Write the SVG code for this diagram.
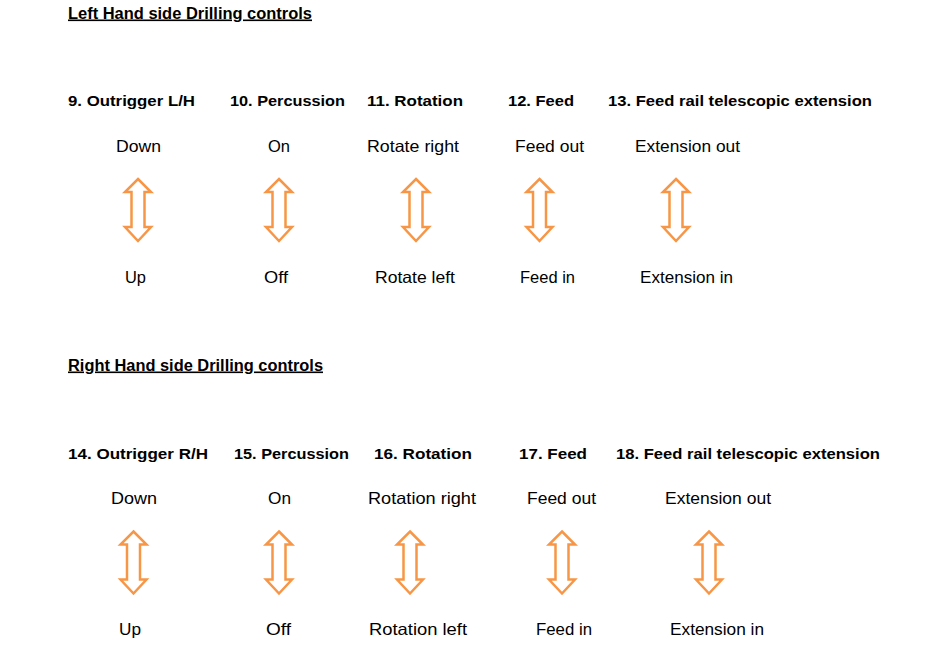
<svg xmlns="http://www.w3.org/2000/svg" xmlns:xlink="http://www.w3.org/1999/xlink" width="928" height="660" viewBox="0 0 928 660">
<style>
.t{font-family:"Liberation Sans",Arial,sans-serif;font-weight:bold;font-size:16px;fill:#000;text-decoration:underline}
.h{font-family:"Liberation Sans",Arial,sans-serif;font-weight:bold;font-size:15.5px;fill:#000}
.l{font-family:"Liberation Sans",Arial,sans-serif;font-size:16.5px;fill:#000}
.a{fill:#fff;stroke:#F79646;stroke-width:2.5;stroke-linejoin:miter}
</style>
<defs>
<path id="arr" class="a" d="M0,0 L13,13 L6.5,13 L6.5,48 L13,48 L0,62 L-13,48 L-6.5,48 L-6.5,13 L-13,13 Z"/>
</defs>
<rect width="928" height="660" fill="#fff"/>

<g id="left-title"><text class="t" x="68" y="18.5" textLength="244" lengthAdjust="spacingAndGlyphs">Left Hand side Drilling controls</text></g>

<g id="ctl9">
<text class="h" x="68" y="106" textLength="127" lengthAdjust="spacingAndGlyphs">9. Outrigger L/H</text>
<text class="l" x="116" y="151.5" textLength="45" lengthAdjust="spacingAndGlyphs">Down</text>
<use xlink:href="#arr" x="138" y="179"/>
<text class="l" x="125" y="283" textLength="21" lengthAdjust="spacingAndGlyphs">Up</text>
</g>
<g id="ctl10">
<text class="h" x="230" y="106" textLength="115" lengthAdjust="spacingAndGlyphs">10. Percussion</text>
<text class="l" x="268" y="151.5" textLength="22" lengthAdjust="spacingAndGlyphs">On</text>
<use xlink:href="#arr" x="279" y="179"/>
<text class="l" x="264" y="283" textLength="24" lengthAdjust="spacingAndGlyphs">Off</text>
</g>
<g id="ctl11">
<text class="h" x="367" y="106" textLength="96" lengthAdjust="spacingAndGlyphs">11. Rotation</text>
<text class="l" x="367" y="151.5" textLength="92" lengthAdjust="spacingAndGlyphs">Rotate right</text>
<use xlink:href="#arr" x="416" y="179"/>
<text class="l" x="375" y="283" textLength="80" lengthAdjust="spacingAndGlyphs">Rotate left</text>
</g>
<g id="ctl12">
<text class="h" x="508" y="106" textLength="66" lengthAdjust="spacingAndGlyphs">12. Feed</text>
<text class="l" x="515" y="151.5" textLength="69" lengthAdjust="spacingAndGlyphs">Feed out</text>
<use xlink:href="#arr" x="539.5" y="179"/>
<text class="l" x="520" y="283" textLength="55" lengthAdjust="spacingAndGlyphs">Feed in</text>
</g>
<g id="ctl13">
<text class="h" x="608" y="106" textLength="264" lengthAdjust="spacingAndGlyphs">13. Feed rail telescopic extension</text>
<text class="l" x="635" y="151.5" textLength="105" lengthAdjust="spacingAndGlyphs">Extension out</text>
<use xlink:href="#arr" x="676" y="179"/>
<text class="l" x="640" y="283" textLength="93" lengthAdjust="spacingAndGlyphs">Extension in</text>
</g>

<g id="right-title"><text class="t" x="68" y="370.5" textLength="255" lengthAdjust="spacingAndGlyphs">Right Hand side Drilling controls</text></g>

<g id="ctl14">
<text class="h" x="68" y="459" textLength="140" lengthAdjust="spacingAndGlyphs">14. Outrigger R/H</text>
<text class="l" x="111" y="503.5" textLength="46" lengthAdjust="spacingAndGlyphs">Down</text>
<use xlink:href="#arr" x="133.5" y="531.5"/>
<text class="l" x="119" y="634.5" textLength="22" lengthAdjust="spacingAndGlyphs">Up</text>
</g>
<g id="ctl15">
<text class="h" x="234" y="459" textLength="115" lengthAdjust="spacingAndGlyphs">15. Percussion</text>
<text class="l" x="268" y="503.5" textLength="23" lengthAdjust="spacingAndGlyphs">On</text>
<use xlink:href="#arr" x="279" y="531.5"/>
<text class="l" x="266" y="634.5" textLength="25" lengthAdjust="spacingAndGlyphs">Off</text>
</g>
<g id="ctl16">
<text class="h" x="374" y="459" textLength="98" lengthAdjust="spacingAndGlyphs">16. Rotation</text>
<text class="l" x="368" y="503.5" textLength="108" lengthAdjust="spacingAndGlyphs">Rotation right</text>
<use xlink:href="#arr" x="410" y="531.5"/>
<text class="l" x="369" y="634.5" textLength="98" lengthAdjust="spacingAndGlyphs">Rotation left</text>
</g>
<g id="ctl17">
<text class="h" x="519" y="459" textLength="68" lengthAdjust="spacingAndGlyphs">17. Feed</text>
<text class="l" x="527" y="503.5" textLength="69" lengthAdjust="spacingAndGlyphs">Feed out</text>
<use xlink:href="#arr" x="562" y="531.5"/>
<text class="l" x="536" y="634.5" textLength="56" lengthAdjust="spacingAndGlyphs">Feed in</text>
</g>
<g id="ctl18">
<text class="h" x="616" y="459" textLength="264" lengthAdjust="spacingAndGlyphs">18. Feed rail telescopic extension</text>
<text class="l" x="665" y="503.5" textLength="106" lengthAdjust="spacingAndGlyphs">Extension out</text>
<use xlink:href="#arr" x="709" y="531.5"/>
<text class="l" x="670" y="634.5" textLength="94" lengthAdjust="spacingAndGlyphs">Extension in</text>
</g>
<g id="connectors"/>
</svg>
